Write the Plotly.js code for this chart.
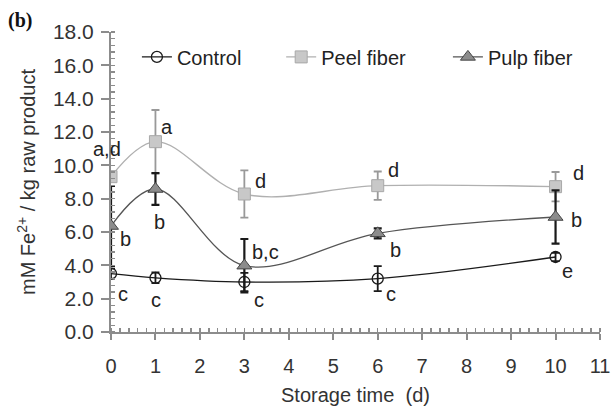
<!DOCTYPE html>
<html>
<head>
<meta charset="utf-8">
<script src="https://cdn.plot.ly/plotly-3.0.1.min.js"></script>
<style>
  html, body { margin: 0; padding: 0; background: #fff; }
  #chart { width: 611px; height: 408px; }
</style>
</head>
<body>
<div id="chart"></div>
<script>
// Storage time (days)
const days = [0, 1, 3, 6, 10];

// Fe2+ reducing capacity, mM Fe2+ / kg raw product
const controlMean = [3.5, 3.25, 3.0, 3.2, 4.5];
const controlErr  = [0.3, 0.32, 0.55, 0.75, 0.25];
const peelMean    = [9.32, 11.42, 8.28, 8.78, 8.72];
const peelErr     = [0, 1.9, 1.42, 0.85, 0.88];
const pulpMean    = [6.36, 8.58, 3.98, 5.92, 6.9];
const pulpErr     = [2.4, 0.95, 1.6, 0.3, 1.6];

// Significance letters per series and day
const controlLetters = ['c', 'c', 'c', 'c', 'e'];
const peelLetters    = ['a,d', 'a', 'd', 'd', 'd'];
const pulpLetters    = ['b', 'b', 'b,c', 'b', 'b'];

// Letter offsets in pixels [right, up] from each point
const controlShift = [[12, -20], [1, -22], [15, -18], [13, -15], [12, -14]];
const peelShift    = [[-4, 28], [12, 15], [16, 13], [16, 16], [23, 14]];
const pulpShift    = [[14, -13], [4, -33], [21, 14], [18, -17], [21, -3]];

const font = 'Liberation Sans, Arial, Helvetica, sans-serif';
const textColor = '#222222';
const axisColor = '#8c8c8c';
const fs = 20;

const traces = [
  {
    name: 'Control', x: days, y: controlMean, type: 'scatter', mode: 'lines+markers',
    line: { color: '#1a1a1a', width: 1.3, shape: 'spline', smoothing: 1 },
    marker: { symbol: 'circle', size: 11, color: 'rgba(255,255,255,0)', line: { color: '#1a1a1a', width: 1.3 } },
    error_y: { type: 'data', array: controlErr, visible: true, color: '#1a1a1a', thickness: 1.8, width: 4 },
    legend: 'legend'
  },
  {
    name: 'Peel fiber', x: days, y: peelMean, type: 'scatter', mode: 'lines+markers',
    line: { color: '#b0b0b0', width: 1.4, shape: 'spline', smoothing: 1 },
    marker: { symbol: 'square', size: 12, color: '#c8c8c8', line: { color: '#a8a8a8', width: 1 } },
    error_y: { type: 'data', array: peelErr, visible: true, color: '#999999', thickness: 1.8, width: 4 },
    legend: 'legend2'
  },
  {
    name: 'Pulp fiber', x: days, y: pulpMean, type: 'scatter', mode: 'lines+markers',
    line: { color: '#555555', width: 1.3, shape: 'spline', smoothing: 1 },
    marker: { symbol: 'triangle-up', size: 13, color: '#8c8c8c', line: { color: '#444444', width: 1 } },
    error_y: { type: 'data', array: pulpErr, visible: true, color: '#1a1a1a', thickness: 2.2, width: 4 },
    legend: 'legend3'
  }
];

// Letter annotations placed relative to each mean
const annotations = [];
function addLetters(means, letters, shifts) {
  for (let i = 0; i < days.length; i++) {
    annotations.push({
      x: days[i], y: means[i], xref: 'x', yref: 'y',
      xshift: shifts[i][0], yshift: shifts[i][1],
      text: letters[i], showarrow: false, xanchor: 'center', yanchor: 'middle',
      font: { family: font, size: fs, color: textColor }
    });
  }
}
addLetters(controlMean, controlLetters, controlShift);
addLetters(peelMean, peelLetters, peelShift);
addLetters(pulpMean, pulpLetters, pulpShift);

// Panel label
annotations.push({
  x: -0.215, y: 1.037, xref: 'paper', yref: 'paper', xanchor: 'left', yanchor: 'middle',
  text: '<b>(b)</b>', showarrow: false,
  font: { family: 'Liberation Serif, Times New Roman, serif', size: 20, color: '#111111' }
});

const legendBase = {
  orientation: 'h', yanchor: 'middle', xanchor: 'left', y: 0.917,
  bgcolor: 'rgba(0,0,0,0)', borderwidth: 0,
  font: { family: font, size: fs, color: textColor }
};

const layout = {
  width: 611, height: 408,
  margin: { l: 111, r: 11, t: 32, b: 76, pad: 0 },
  paper_bgcolor: '#ffffff', plot_bgcolor: '#ffffff',
  font: { family: font, size: fs, color: textColor },
  showlegend: true,
  legend:  Object.assign({}, legendBase, { x: 0.053 }),
  legend2: Object.assign({}, legendBase, { x: 0.348 }),
  legend3: Object.assign({}, legendBase, { x: 0.689 }),
  xaxis: {
    range: [0, 11], dtick: 1, tick0: 0,
    showgrid: false, zeroline: false,
    showline: true, linecolor: axisColor, linewidth: 2,
    ticks: 'outside', ticklen: 6, tickwidth: 2, tickcolor: axisColor,
    minor: { dtick: 0.2, ticks: 'inside', ticklen: 4, tickwidth: 1.5, tickcolor: axisColor, showgrid: false },
    tickfont: { family: font, size: fs, color: '#333333' },
    ticklabelstandoff: 9,
    title: { text: 'Storage time  (d)', font: { family: font, size: fs, color: '#333333' }, standoff: 12 }
  },
  yaxis: {
    range: [0, 18], dtick: 2, tick0: 0, tickformat: '.1f',
    showgrid: false, zeroline: false,
    showline: true, linecolor: axisColor, linewidth: 2,
    ticks: 'outside', ticklen: 8, tickwidth: 2, tickcolor: axisColor,
    minor: { dtick: 0.4, ticks: 'inside', ticklen: 4, tickwidth: 1.5, tickcolor: axisColor, showgrid: false },
    tickfont: { family: font, size: 21, color: '#333333' },
    ticklabelstandoff: 3,
    title: { text: 'mM Fe<sup>2+</sup> / kg raw product', font: { family: font, size: fs, color: '#333333' }, standoff: 12 }
  },
  // inner half of the major y ticks, so they cross the axis line
  yaxis2: {
    overlaying: 'y', side: 'left', range: [0, 18], dtick: 2, tick0: 0,
    showgrid: false, zeroline: false, showline: false, showticklabels: false,
    ticks: 'inside', ticklen: 4, tickwidth: 2, tickcolor: axisColor
  },
  annotations: annotations
};

Plotly.newPlot('chart', traces, layout, { displayModeBar: false, staticPlot: true });
</script>
</body>
</html>
